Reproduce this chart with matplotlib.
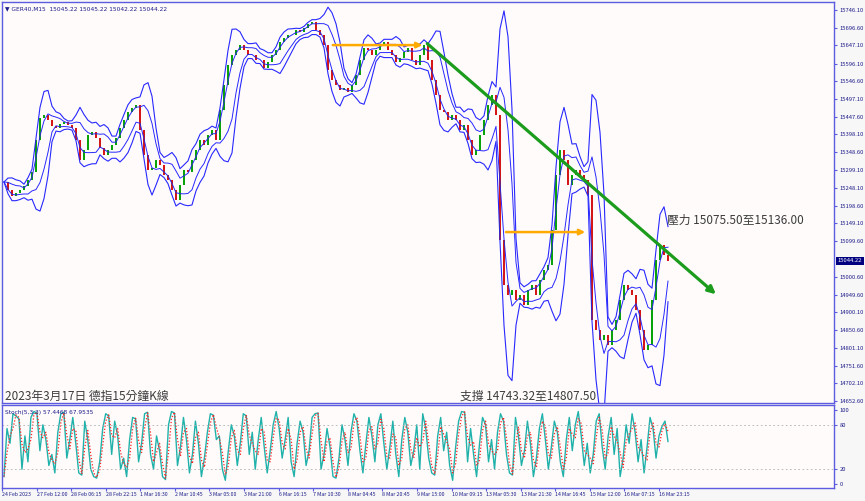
import numpy as np
import pandas as pd
import matplotlib
matplotlib.use("Agg")
import matplotlib.pyplot as plt
import matplotlib.transforms as mtransforms

plt.rcParams['font.family'] = ['Noto Sans CJK TC', 'DejaVu Sans']

closes = [
    15265, 15243, 15226, 15234, 15243, 15254, 15271, 15293, 15382, 15444,
    15452, 15438, 15422, 15416, 15427, 15433, 15424, 15416, 15382, 15327,
    15355, 15396, 15405, 15388, 15360, 15341, 15355, 15368, 15388, 15416,
    15438, 15461, 15472, 15480, 15410, 15341, 15299, 15304, 15327, 15313,
    15285, 15271, 15243, 15215, 15257, 15299, 15293, 15327, 15355, 15382,
    15368, 15396, 15410, 15382, 15466, 15536, 15592, 15620, 15634, 15648,
    15634, 15620, 15620, 15606, 15606, 15584, 15601, 15620, 15634, 15657,
    15668, 15676, 15676, 15690, 15685, 15696, 15707, 15713, 15690, 15676,
    15648, 15578, 15550, 15536, 15522, 15528, 15517, 15536, 15564, 15606,
    15640, 15634, 15620, 15634, 15648, 15657, 15634, 15620, 15601, 15612,
    15629, 15640, 15606, 15592, 15620, 15648, 15606, 15550, 15508, 15466,
    15461, 15438, 15452, 15438, 15410, 15424, 15382, 15341, 15355, 15396,
    15438, 15480, 15508, 15452, 15103, 14977, 14949, 14963, 14935, 14949,
    14921, 14963, 14977, 14949, 14991, 15019, 15033, 15131, 15285, 15355,
    15327, 15257, 15285, 15299, 15285, 15271, 15229, 14879, 14851, 14823,
    14837, 14809, 14851, 14879, 14935, 14977, 14963, 14949, 14907, 14851,
    14795, 14809, 14935, 15047, 15089, 15061, 15044.22,
]

# Stochastic %K (main line), sampled finer than the price bars
stoch_k = [
    10, 75, 55, 95, 92, 88, 20, 65, 30, 90, 98, 96, 45, 80, 60, 25, 40, 15, 70, 95,
    97, 35, 60, 90, 55, 15, 12, 85, 60, 20, 10, 8, 30, 75, 95, 92, 40, 85, 65, 20,
    35, 10, 60, 90, 88, 30, 55, 95, 97, 40, 20, 65, 45, 10, 6, 80, 98, 96, 25, 50,
    90, 60, 15, 40, 85, 55, 10, 35, 70, 95, 93, 60, 65, 20, 5, 45, 80, 65, 25, 55,
    95, 92, 40, 70, 20, 60, 90, 50, 15, 45, 80, 98, 75, 35, 60, 90, 30, 10, 55, 85,
    70, 25, 45, 90, 95, 96, 20, 40, 75, 50, 10, 8, 35, 80, 60, 25, 70, 95, 85, 45, 15,
    55, 90, 65, 30, 80, 95, 55, 20, 50, 85, 40, 10, 60, 90, 70, 25, 45, 80, 20,
    95, 75, 35, 15, 12, 65, 90, 45, 70, 25, 5, 50, 85, 98, 97, 30, 75, 40, 10, 55, 90,
    80, 30, 60, 20, 70, 95, 85, 40, 15, 12, 90, 65, 25, 45, 85, 55, 10, 35, 75, 95,
    60, 20, 50, 85, 70, 30, 10, 60, 90, 45, 80, 98, 65, 25, 55, 15, 40, 85, 95, 50,
    20, 65, 90, 40, 75, 10, 35, 80, 55, 95, 70, 30, 60, 15, 50, 90, 75, 35, 65, 78,
    85, 57.45,
]

price_ticks = [15746.10, 15696.60, 15647.10, 15596.10, 15546.60, 15497.10, 15447.60,
               15398.10, 15348.60, 15299.10, 15248.10, 15198.60, 15149.10, 15099.60,
               15000.60, 14949.60, 14900.10, 14850.60, 14801.10, 14751.60, 14702.10,
               14652.60]
time_labels = ["24 Feb 2023", "27 Feb 12:00", "28 Feb 06:15", "28 Feb 22:15", "1 Mar 16:30",
               "2 Mar 10:45", "3 Mar 05:00", "3 Mar 21:00", "6 Mar 16:15", "7 Mar 10:30",
               "8 Mar 04:45", "8 Mar 20:45", "9 Mar 15:00", "10 Mar 09:15", "13 Mar 05:30",
               "13 Mar 21:30", "14 Mar 16:45", "15 Mar 12:00", "16 Mar 07:15", "16 Mar 23:15"]
bars_per_label = 8.645

last_price = 15044.22
header = "\u25bc GER40,M15  15045.22 15045.22 15042.22 15044.22"
stoch_title = "Stoch(5,3,3) 57.4468 67.9535"

# horizontal levels drawn with arrows: (start bar, end bar, price)
flat_levels = [(81.5, 105.3, 15648), (124.8, 146.0, 15125)]
# falling trend line: (bar, price) -> (bar, price)
trend_start = (105.3, 15657)
trend_end = (178.5, 14946)

frame_col = '#5c5ce0'
label_col = '#1c1c8a'
bg_col = '#fffbfb'

closes = np.array(closes, dtype=float)
opens = np.r_[closes[0], closes[:-1]]
x = np.arange(len(closes))

s = pd.Series(closes)
mid = s.rolling(5, min_periods=1).mean()
sd = s.rolling(5, min_periods=1).std(ddof=0)

fig = plt.figure(figsize=(8.65, 5.01), dpi=100)
fig.patch.set_facecolor('#f8f7f7')
ax = fig.add_axes([2 / 865, 98 / 501, 832 / 865, 401 / 501])
ax2 = fig.add_axes([2 / 865, 13 / 501, 832 / 865, 83 / 501])

for a in (ax, ax2):
    a.set_facecolor(bg_col)
    for sp in a.spines.values():
        sp.set_color(frame_col)
        sp.set_linewidth(1.0)
    a.set_xlim(-0.5, 207.5)

# envelope lines
for dev, lw in ((2.0, 0.8), (0.9, 0.7)):
    ax.plot(x, mid + dev * sd, color='#2828ff', lw=lw)
    ax.plot(x, mid - dev * sd, color='#2828ff', lw=lw)

# candles
up = closes >= opens
cols = np.where(up, '#00c000', '#ff1010')
ax.vlines(x, np.minimum(opens, closes), np.maximum(opens, closes), color='#303030', lw=0.3)
ax.bar(x, closes - opens, bottom=opens, width=0.55, color=cols, linewidth=0)

# annotations
for b0, b1, p in flat_levels:
    ax.annotate('', xy=(b1, p), xytext=(b0, p),
                arrowprops=dict(arrowstyle='-|>', color='#ffaa00', lw=1.8, mutation_scale=8))
ax.annotate('', xy=trend_end, xytext=trend_start,
            arrowprops=dict(arrowstyle='-|>', color='#1c9c1c', lw=2.3, mutation_scale=11))

ax.set_ylim(14646.9, 15768.5)
ax.yaxis.tick_right()
ax.set_yticks(price_ticks)
ax.set_yticklabels([f"{v:.2f}" for v in price_ticks])
ax.tick_params(axis='y', labelsize=4.2, labelcolor=label_col, color=frame_col, length=2.5, pad=1.5)
ax.set_xticks([])

trans = mtransforms.blended_transform_factory(ax.transAxes, ax.transData)
ax.text(1.0045, last_price, f"{last_price:.2f}", transform=trans, fontsize=4.2, color='white',
        va='center', ha='left', bbox=dict(boxstyle='square,pad=0.3', fc='#000080', ec='none'))

ax.text(0.004, 0.99, header, transform=ax.transAxes, fontsize=4.2, color=label_col,
        va='top', ha='left', family=['DejaVu Sans'])
ax.text(0.0036, 0.016, "2023年3月17日 德指15分鐘K線", transform=ax.transAxes,
        fontsize=8.5, color='#3c3c3c', va='center', ha='left')
ax.text((460 - 2) / 832, 0.016, "支撐 14743.32至14807.50", transform=ax.transAxes,
        fontsize=8.5, color='#3c3c3c', va='center', ha='left')
ax.text((667 - 2) / 832, (403 - 220) / 401, "壓力 15075.50至15136.00", transform=ax.transAxes,
        fontsize=8.5, color='#3c3c3c', va='center', ha='left')

# stochastic panel
k = pd.Series(stoch_k, dtype=float)
d = k.rolling(2, min_periods=1).mean()
xs = np.linspace(0, len(closes) - 1, len(k))
ax2.plot(xs, k, color='#20b2aa', lw=1.0)
ax2.plot(xs, d, color='#ff2020', lw=0.9, ls=(0, (1, 1.5)))
for lvl in (80, 20):
    ax2.axhline(lvl, color='#b0b0b0', lw=0.6, ls=(0, (2, 3)))
ax2.set_ylim(-5.4, 106.8)
ax2.yaxis.tick_right()
ax2.set_yticks([100, 80, 20, 0])
ax2.tick_params(axis='y', labelsize=4.2, labelcolor=label_col, color=frame_col, length=2.5, pad=1.5)
ticks = -0.5 + np.arange(len(time_labels)) * bars_per_label
ax2.set_xticks(ticks)
ax2.set_xticklabels(time_labels, ha='left')
ax2.tick_params(axis='x', labelsize=3.8, labelcolor=label_col, color=frame_col, length=2.5, pad=0.5)
ax2.text(0.004, 0.94, stoch_title, transform=ax2.transAxes, fontsize=4.2, color=label_col,
         va='top', ha='left', family=['DejaVu Sans'])

fig.savefig("out.png", dpi=100, facecolor=fig.get_facecolor())
